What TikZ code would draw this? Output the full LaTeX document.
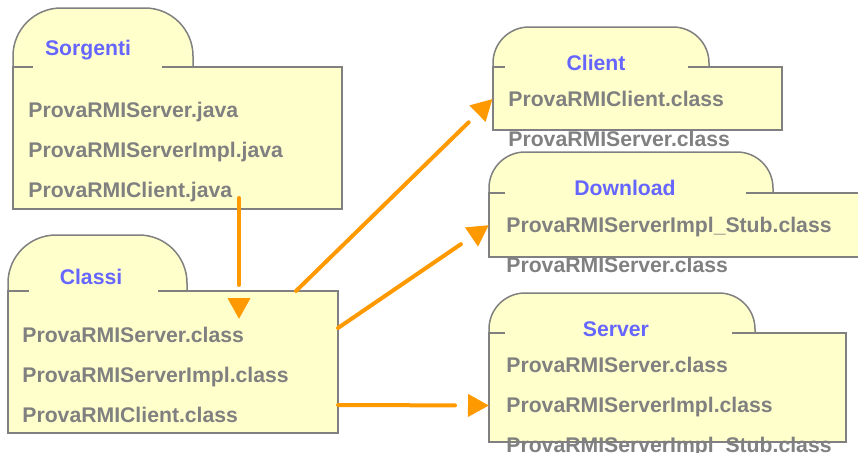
\documentclass[tikz,border=0pt]{standalone}
\usepackage{fontspec}
\setmainfont{Liberation Sans}
\usepackage{xcolor}
\usetikzlibrary{arrows.meta, decorations.markings}

\definecolor{folderfill}{HTML}{FFFFCC}
\definecolor{folderline}{HTML}{808080}
\definecolor{filegray}{HTML}{808080}
\definecolor{titleblue}{HTML}{6666FF}
\definecolor{flow}{HTML}{FF9900}

\begin{document}
\begin{tikzpicture}[
    x=0.5pt, y=-0.5pt,
    every node/.style={font=\fontsize{10.6}{20}\selectfont\bfseries},
    body/.style={
        rectangle, draw=folderline, fill=folderfill, line width=0.75pt,
        anchor=north west, inner sep=0pt, outer sep=0pt
    },
    tab/.style={draw=folderline, fill=folderfill, line width=0.75pt, rounded corners=18pt},
    gap/.style={fill=folderfill},
    title/.style={text=titleblue},
    files/.style={text=filegray, align=left, anchor=north west, inner sep=0pt},
    arrow/.style={
        draw=flow, line width=2pt, line cap=round, shorten >=17pt,
        postaction={decorate},
        decoration={markings, mark=at position 1 with {\arrow[flow]{Triangle[length=10.5pt, width=11pt]}}}
    }
]
\useasboundingbox (0,0) rectangle (858,452);
\clip (0,0) rectangle (858,452);

% Sorgenti
\draw[tab, rounded corners=24pt] (13,67) -- (13,8) -- (193,8) -- (193,67);
\node[body, minimum width=164.5pt, minimum height=71pt] (src) at (13,67) {};
\fill[gap] (33,65) rectangle (162,69);
\node[title] (src title) at (88,50) {Sorgenti};
\node[files] (src files) at (28,102) {ProvaRMIServer.java\\ProvaRMIServerImpl.java\\ProvaRMIClient.java};

% Classi
\draw[tab, rounded corners=24pt] (8,291) -- (8,235) -- (187,235) -- (187,291);
\node[body, minimum width=165pt, minimum height=71pt] (cls) at (8,291) {};
\fill[gap] (29,289) rectangle (158,293);
\node[title] (cls title) at (91,277) {Classi};
\node[files] (cls files) at (22,327) {ProvaRMIServer.class\\ProvaRMIServerImpl.class\\ProvaRMIClient.class};

% Client
\draw[tab] (493,67) -- (493,27) -- (709,27) -- (709,67);
\node[body, minimum width=144.5pt, minimum height=31.5pt] (cli) at (493,67) {};
\fill[gap] (505,65) rectangle (688,69);
\node[title] (cli title) at (596,63) {Client};
\node[files] (cli files) at (508,91) {ProvaRMIClient.class\\ProvaRMIServer.class};

% Download
\draw[tab] (489,193) -- (489,152) -- (773,152) -- (773,193);
\node[body, minimum width=190.5pt, minimum height=32pt] (dl) at (489,193) {};
\fill[gap] (505,191) rectangle (746,195);
\node[title] (dl title) at (625,188) {Download};
\node[files] (dl files) at (506,217) {ProvaRMIServerImpl\_Stub.class\\ProvaRMIServer.class};

% Server
\draw[tab] (489,333) -- (489,293) -- (755,293) -- (755,333);
\node[body, minimum width=178.5pt, minimum height=54.5pt] (srv) at (489,333) {};
\fill[gap] (505,331) rectangle (732,335);
\node[title] (srv title) at (616,329) {Server};
\node[files] (srv files) at (506,357) {ProvaRMIServer.class\\ProvaRMIServerImpl.class\\ProvaRMIServerImpl\_Stub.class};

% Arrows
\draw[arrow] ([xshift=30.75pt, yshift=5.5pt]src.south) -- ([xshift=33pt, yshift=-14pt]cls.north);
\draw[arrow] ([xshift=-21pt]cls.north east) -- (cli.west);
\draw[arrow] ([yshift=17pt]cls.east) -- (dl.west);
\draw[arrow] ([yshift=-21.5pt]cls.east) -- ([yshift=-9pt]srv.west);

\end{tikzpicture}
\end{document}
